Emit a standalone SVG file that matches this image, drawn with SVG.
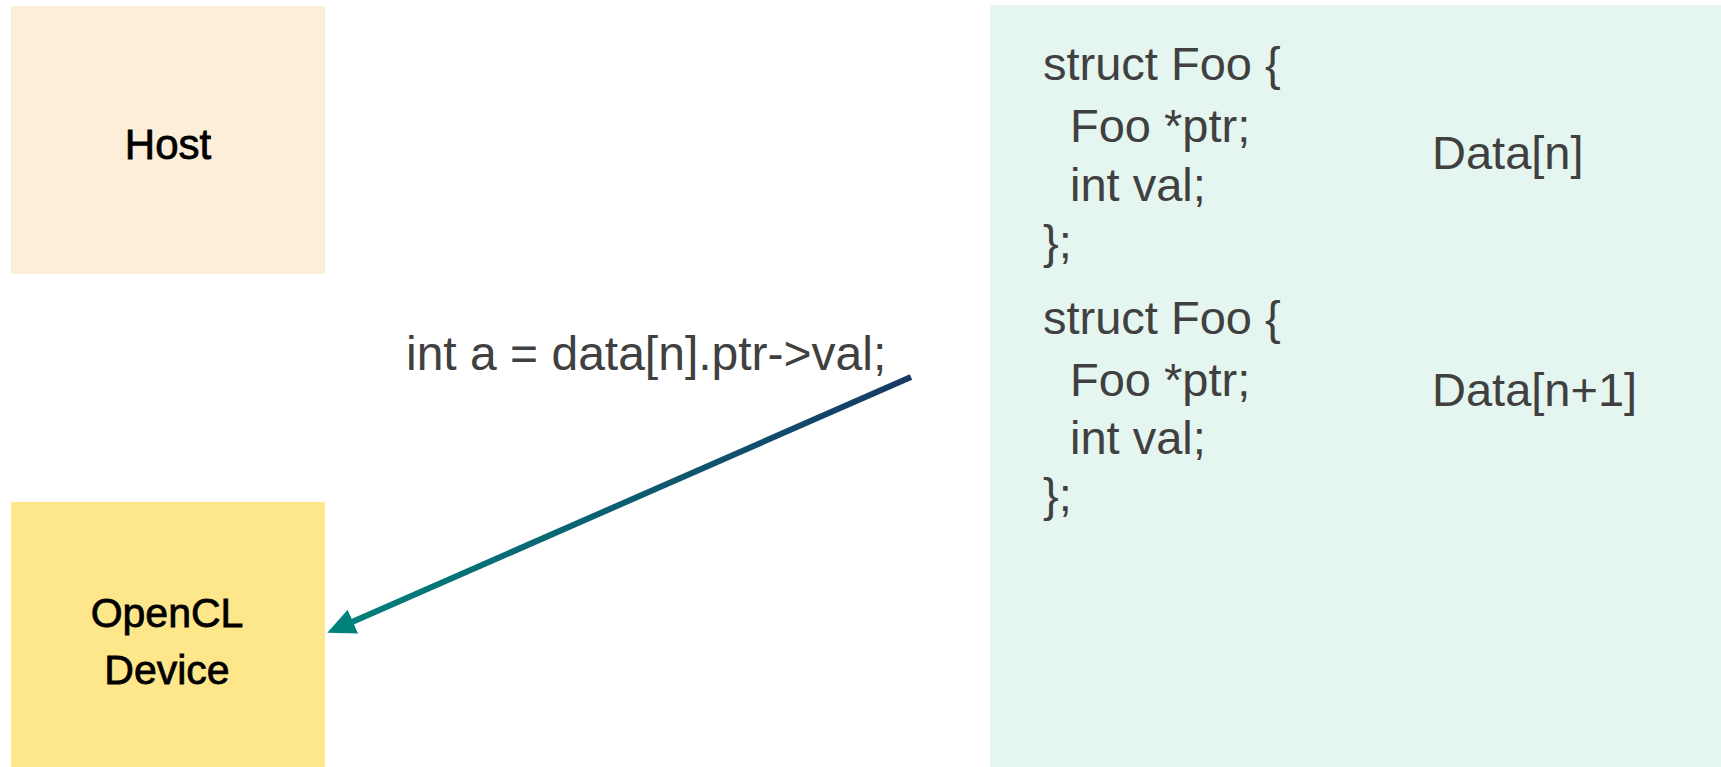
<svg xmlns="http://www.w3.org/2000/svg" width="1721" height="767" viewBox="0 0 1721 767">
  <style>
    .label { font-family: "Liberation Sans", Arial, sans-serif; fill: #000; stroke: #000; stroke-width: 0.8; text-anchor: middle; }
    .code { font-family: "Liberation Sans", Arial, sans-serif; fill: #404040; font-size: 47px; }
  </style>
  <defs>
    <linearGradient id="arrowGrad" gradientUnits="userSpaceOnUse" x1="911" y1="377" x2="326" y2="634">
      <stop offset="0" stop-color="#173a66"/>
      <stop offset="1" stop-color="#00827c"/>
    </linearGradient>
    <marker id="head" markerUnits="userSpaceOnUse" markerWidth="32" markerHeight="30" viewBox="0 0 32 30" refX="1" refY="15" orient="auto">
      <path d="M0,2 L28,15 L0,28 z" fill="#00827c"/>
    </marker>
  </defs>

  <!-- Memory panel -->
  <g id="memory">
    <rect x="990" y="5" width="731" height="762" fill="#e5f5ef"/>
    <g class="code">
      <text x="1043" y="80">struct Foo {</text>
      <text x="1070" y="142">Foo *ptr;</text>
      <text x="1070" y="201">int val;</text>
      <text x="1043" y="258">};</text>
      <text x="1432" y="169">Data[n]</text>

      <text x="1043" y="334">struct Foo {</text>
      <text x="1070" y="396">Foo *ptr;</text>
      <text x="1070" y="454">int val;</text>
      <text x="1043" y="511">};</text>
      <text x="1432" y="406">Data[n+1]</text>
    </g>
  </g>

  <!-- Host node -->
  <g id="host">
    <rect x="11" y="6" width="314" height="268" fill="#fdeed9"/>
    <text class="label" x="168" y="159" font-size="42">Host</text>
  </g>

  <!-- OpenCL device node -->
  <g id="device">
    <rect x="11" y="502" width="314" height="265" fill="#fee68a"/>
    <text class="label" x="167" y="627" font-size="41">OpenCL</text>
    <text class="label" x="167" y="684" font-size="41">Device</text>
  </g>

  <!-- Access connector -->
  <g id="connectors">
    <text class="code" x="406" y="370" style="font-size:48px">int a = data[n].ptr-&gt;val;</text>
    <line x1="911" y1="377" x2="352" y2="622" stroke="url(#arrowGrad)" stroke-width="6" marker-end="url(#head)"/>
  </g>
</svg>
